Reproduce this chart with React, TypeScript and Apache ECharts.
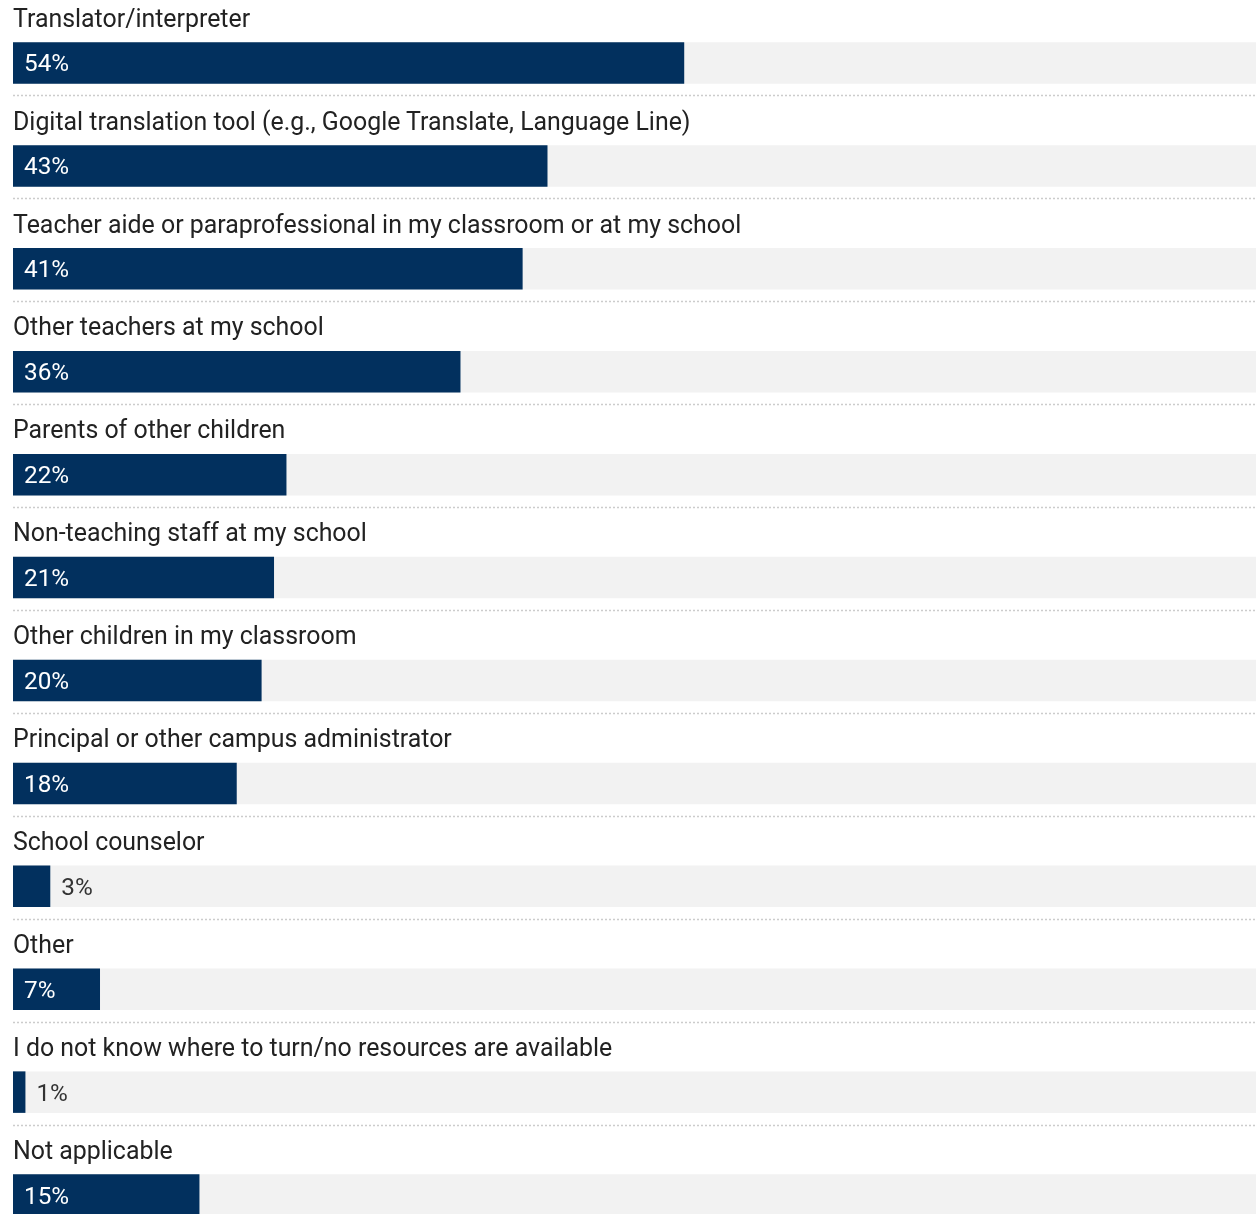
import React, { useEffect, useRef } from "react";
import * as echarts from "echarts";

const categories: string[] = [
  "Translator/interpreter",
  "Digital translation tool (e.g., Google Translate, Language Line)",
  "Teacher aide or paraprofessional in my classroom or at my school",
  "Other teachers at my school",
  "Parents of other children",
  "Non-teaching staff at my school",
  "Other children in my classroom",
  "Principal or other campus administrator",
  "School counselor",
  "Other",
  "I do not know where to turn/no resources are available",
  "Not applicable",
];

const values: number[] = [54, 43, 41, 36, 22, 21, 20, 18, 3, 7, 1, 15];

const BAR_COLOR = "#02305e";
const TRACK_COLOR = "#f2f2f2";
const TEXT_COLOR = "#222222";
const FONT = "Roboto, 'Noto Sans', sans-serif";
const CAT_FONT_SIZE = 24.9;
const VAL_FONT_SIZE = 24.3;

export default function App() {
  const ref = useRef<HTMLDivElement>(null);

  useEffect(() => {
    if (!ref.current) return;
    document.body.style.margin = "0";
    document.body.style.overflow = "hidden";
    const chart = echarts.init(ref.current, undefined, { renderer: "svg" });

    const barData = values.map((v) => ({
      value: v,
      label:
        v < 5
          ? { position: "right", distance: 11, color: "#333333" }
          : { position: "insideLeft", distance: 11, color: "#ffffff" },
    }));

    chart.setOption({
      animation: false,
      textStyle: { fontFamily: FONT },
      grid: { left: 13, top: 11.5, width: 1244, height: 1235, containLabel: false },
      xAxis: {
        type: "value",
        min: 0,
        max: 100,
        show: false,
      },
      yAxis: {
        type: "category",
        data: categories,
        inverse: true,
        axisLine: { show: false },
        axisTick: { show: false },
        splitLine: { show: false },
        axisLabel: { show: false },
      },
      series: [
        {
          type: "bar",
          data: barData,
          barWidth: 41.5,
          itemStyle: { color: BAR_COLOR },
          showBackground: true,
          backgroundStyle: { color: TRACK_COLOR },
          label: {
            show: true,
            fontSize: VAL_FONT_SIZE,
            fontFamily: FONT,
            formatter: "{c}%",
          },
        },
        {
          type: "custom",
          silent: true,
          data: categories.map((name, i) => [i, name]),
          encode: { y: 0 },
          renderItem: (params: any, api: any) => {
            const idx = api.value(0);
            const name = categories[idx];
            const c = api.coord([0, idx]);
            const band = api.size([0, 1])[1];
            const children: any[] = [
              {
                type: "text",
                x: c[0],
                y: c[1] - band * 0.435,
                style: {
                  text: name,
                  fill: TEXT_COLOR,
                  fontSize: CAT_FONT_SIZE,
                  fontFamily: FONT,
                  align: "left",
                  verticalAlign: "middle",
                },
              },
            ];
            if (idx < categories.length - 1) {
              const y = Math.round(c[1] + band * 0.316) + 0.5;
              children.push({
                type: "line",
                shape: { x1: c[0], y1: y, x2: c[0] + 1250, y2: y },
                style: { stroke: "#cccccc", lineWidth: 1.5, lineDash: [2, 2] },
              });
            }
            return { type: "group", children };
          },
        },
      ],
    });

    return () => chart.dispose();
  }, []);

  return (
    <div
      ref={ref}
      style={{ position: "fixed", left: 0, top: 0, width: 1256, height: 1250 }}
    />
  );
}
